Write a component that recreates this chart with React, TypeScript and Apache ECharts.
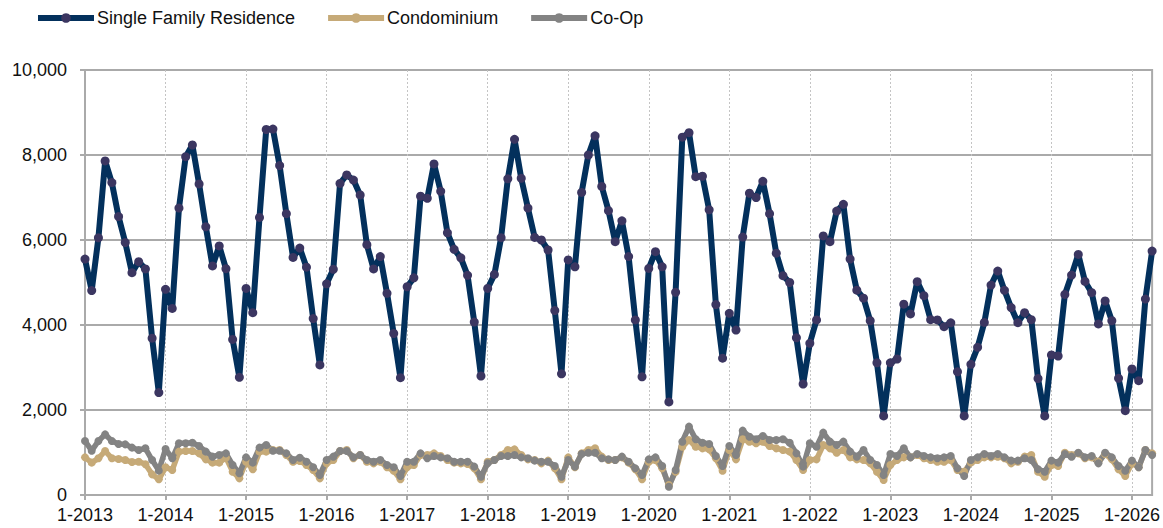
import React, { useEffect, useRef } from "react";
import * as echarts from "echarts";

const years = ["2013", "2014", "2015", "2016", "2017", "2018", "2019", "2020", "2021", "2022", "2023", "2024", "2025", "2026"];
const lastMonthOfFinalYear = 4;

const singleFamily = [
  5550, 4810, 6050, 7860, 7350, 6550, 5940, 5230, 5490, 5320, 3690, 2410,
  4840, 4390, 6750, 7960, 8235, 7320, 6310, 5390, 5860, 5325, 3660, 2770,
  4860, 4290, 6530, 8600, 8610, 7750, 6620, 5590, 5810, 5360, 4150, 3060,
  4970, 5310, 7330, 7530, 7410, 7060, 5890, 5320, 5610, 4745, 3800, 2760,
  4900, 5110, 7030, 6980, 7790, 7145, 6170, 5780, 5580, 5170, 4070, 2800,
  4860, 5190, 6055, 7440, 8370, 7450, 6750, 6060, 6000, 5765, 4340, 2850,
  5530, 5370, 7120, 8000, 8450, 7260, 6690, 5960, 6450, 5610, 4120, 2780,
  5330, 5725, 5370, 2190, 4770, 8420, 8525, 7490, 7500, 6710, 4480, 3220,
  4275, 3880, 6070, 7100, 7000, 7380, 6620, 5690, 5160, 5000, 3700, 2610,
  3570, 4120, 6095, 5960, 6680, 6840, 5550, 4820, 4630, 4100, 3110, 1860,
  3110, 3200, 4490, 4260, 5020, 4690, 4125, 4120, 3960, 4050, 2900, 1860,
  3075, 3475, 4060, 4940, 5270, 4815, 4410, 4055, 4290, 4125, 2740, 1860,
  3295, 3270, 4720, 5175, 5660, 5025, 4760, 4025, 4565, 4100, 2745, 1985,
  2965, 2690, 4610, 5740,
];

const condominium = [
  886, 761, 863, 1035, 863, 847, 823, 776, 784, 722, 486, 369,
  651, 588, 1020, 1035, 1035, 980, 839, 761, 761, 878, 549, 392,
  784, 604, 1020, 1020, 1059, 1059, 941, 784, 800, 706, 588, 392,
  745, 823, 1035, 1059, 863, 941, 784, 745, 784, 651, 572, 369,
  651, 706, 941, 941, 980, 918, 823, 761, 745, 729, 627, 369,
  784, 823, 941, 1059, 1074, 941, 839, 823, 745, 808, 627, 369,
  886, 651, 980, 1059, 1098, 902, 823, 823, 886, 761, 604, 369,
  784, 823, 627, 235, 549, 1137, 1294, 1137, 1098, 1074, 863, 572,
  1059, 839, 1310, 1255, 1216, 1255, 1153, 1098, 1059, 1020, 823, 588,
  823, 839, 1176, 1098, 996, 1059, 886, 839, 823, 745, 549, 353,
  706, 823, 886, 886, 941, 863, 823, 784, 784, 823, 588, 549,
  761, 823, 886, 886, 902, 863, 745, 784, 902, 941, 549, 431,
  706, 682, 996, 941, 980, 863, 886, 784, 965, 839, 604, 447,
  745, 651, 1059, 980,
];

const coOp = [
  1270, 1043, 1270, 1427, 1270, 1200, 1192, 1114, 1059, 1098, 823, 573,
  1082, 863, 1216, 1216, 1231, 1153, 1020, 902, 941, 980, 706, 510,
  886, 761, 1114, 1176, 1043, 1043, 980, 823, 878, 784, 651, 471,
  823, 902, 1035, 1035, 886, 941, 823, 784, 823, 706, 651, 447,
  784, 784, 980, 863, 918, 886, 863, 784, 784, 784, 667, 431,
  745, 823, 918, 918, 941, 886, 863, 808, 784, 784, 682, 431,
  823, 667, 965, 996, 996, 863, 839, 823, 902, 784, 627, 471,
  839, 886, 682, 196, 588, 1255, 1608, 1310, 1231, 1200, 918, 682,
  1153, 941, 1514, 1372, 1310, 1388, 1294, 1294, 1310, 1231, 980, 667,
  1216, 1137, 1467, 1255, 1176, 1255, 1020, 902, 1059, 823, 706, 471,
  965, 918, 1098, 886, 965, 918, 886, 863, 886, 918, 627, 447,
  823, 886, 965, 918, 965, 886, 808, 808, 863, 823, 604, 549,
  808, 761, 965, 902, 996, 886, 918, 745, 996, 886, 682, 572,
  808, 651, 1059, 941,
];

const categories: string[] = [];
years.forEach((y, yi) => {
  const months = yi === years.length - 1 ? lastMonthOfFinalYear : 12;
  for (let m = 1; m <= months; m++) categories.push(`${m}-${y}`);
});

const FONT = "Arial, 'Liberation Sans', Helvetica, sans-serif";

export default function App() {
  const ref = useRef<HTMLDivElement>(null);
  useEffect(() => {
    if (!ref.current) return;
    const chart = echarts.init(ref.current, null, { renderer: "svg" });
    const yearTick = (i: number) => i % 12 === 0;
    chart.setOption({
      animation: false,
      backgroundColor: "#ffffff",
      textStyle: { fontFamily: FONT },
      legend: {
        left: 30,
        top: 4,
        itemWidth: 56,
        itemHeight: 12,
        itemGap: 30,
        lineStyle: { width: 6 },
        textStyle: { fontSize: 18, color: "#111", fontFamily: FONT, padding: [0, 0, 0, -2] },
        data: ["Single Family Residence", "Condominium", "Co-Op"],
      },
      grid: {
        left: 85,
        right: 9,
        top: 70,
        bottom: 33,
        show: true,
        borderColor: "#aaaaaa",
        borderWidth: 2,
      },
      xAxis: {
        type: "category",
        data: categories,
        boundaryGap: false,
        axisLine: { lineStyle: { color: "#aaaaaa", width: 2 } },
        axisTick: { interval: yearTick, length: 5, lineStyle: { color: "#aaaaaa", width: 2 } },
        axisLabel: {
          interval: yearTick,
          margin: 11,
          fontSize: 18,
          color: "#111",
          fontFamily: FONT,
        },
        splitLine: {
          show: true,
          interval: yearTick,
          lineStyle: { color: "#c4c4c4", type: [2, 2], width: 1 },
        },
      },
      yAxis: {
        type: "value",
        min: 0,
        max: 10000,
        interval: 2000,
        axisLine: { show: true, lineStyle: { color: "#aaaaaa", width: 2 } },
        axisTick: { show: true, length: 5, lineStyle: { color: "#aaaaaa", width: 2 } },
        axisLabel: {
          margin: 18,
          fontSize: 18,
          color: "#111",
          fontFamily: FONT,
          formatter: (v: number) => v.toLocaleString("en-US"),
        },
        splitLine: { lineStyle: { color: "#aaaaaa", width: 2 } },
      },
      series: [
        {
          name: "Single Family Residence",
          type: "line",
          data: singleFamily,
          symbol: "circle",
          symbolSize: 9,
          showAllSymbol: true,
          lineStyle: { color: "#03305c", width: 6 },
          itemStyle: { color: "#3b3661" },
          z: 3,
        },
        {
          name: "Condominium",
          type: "line",
          data: condominium,
          symbol: "circle",
          symbolSize: 8,
          showAllSymbol: true,
          lineStyle: { color: "#c6aa78", width: 5.5 },
          itemStyle: { color: "#c6aa78" },
          z: 2,
        },
        {
          name: "Co-Op",
          type: "line",
          data: coOp,
          symbol: "circle",
          symbolSize: 8,
          showAllSymbol: true,
          lineStyle: { color: "#838383", width: 5.5 },
          itemStyle: { color: "#838383" },
          z: 2,
        },
      ],
    });
    return () => chart.dispose();
  }, []);
  return (
    <div
      ref={ref}
      style={{ position: "absolute", left: 0, top: 0, width: 1163, height: 528 }}
    />
  );
}
